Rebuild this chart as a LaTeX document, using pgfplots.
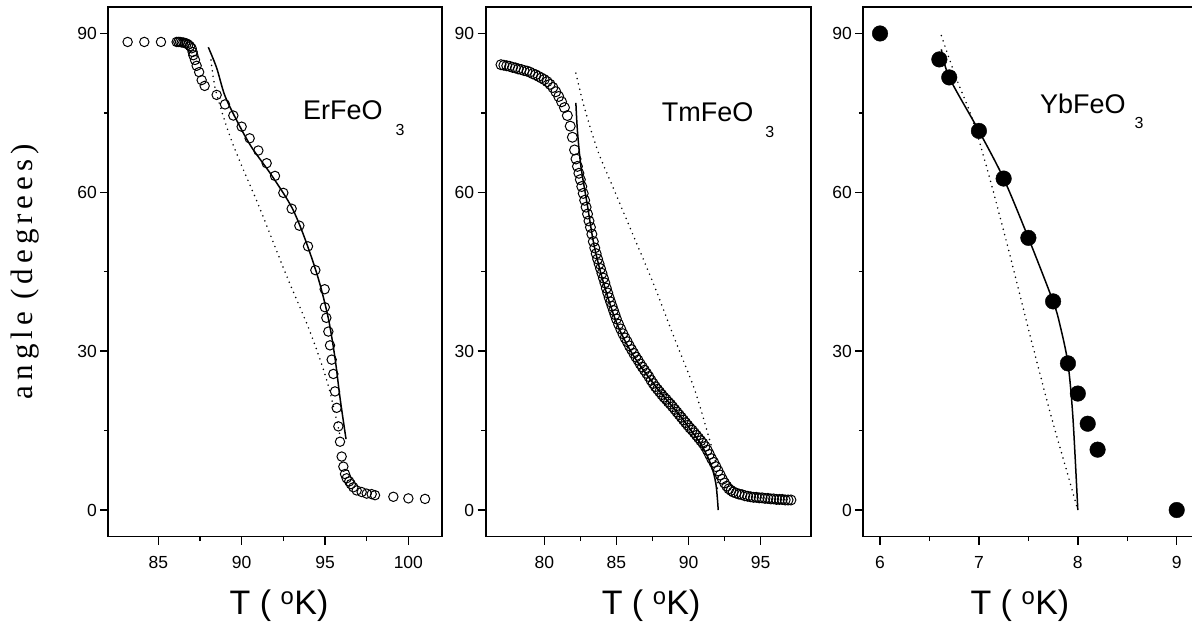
\documentclass[border=0pt]{standalone}
\usepackage{fontspec}
\setmainfont{Liberation Sans}
\newfontfamily\ylabfont{Liberation Serif}[LetterSpace=16]
\usepackage{pgfplots}
\pgfplotsset{compat=1.18}

\pgfplotsset{
  panel/.style={
    scale only axis, height=529.5pt,
    ymin=-5, ymax=95, ytick={0,30,60,90}, minor y tick num=1,
    minor x tick num=1,
    tick align=outside, xtick pos=bottom, ytick pos=left,
    major tick length=8pt, minor tick length=4.5pt,
    tick style={black, line width=1.4pt},
    axis line style={line width=1.8pt},
    /pgf/number format/assume math mode=true,
    tick label style={font=\fontsize{17.5}{20}\selectfont},
    xticklabel style={yshift=-8pt},
    xlabel style={font=\fontsize{34}{40}\selectfont, anchor=base, yshift=-77.5pt},
    xlabel={T ( \textsuperscript{o}K)},
  },
  circ/.style={only marks, mark=o, mark size=4.7pt, mark options={line width=1pt, black}},
  fitline/.style={black, line width=1.5pt, smooth, tension=0.5, mark=none},
  dotline/.style={black, line width=1.7pt, line cap=round, dash pattern=on 0pt off 5.5pt, smooth, tension=0.5, mark=none},
}

\newcommand{\comp}[3]{{\fontsize{27}{30}\selectfont #1}\hspace{#2}\raisebox{#3}{\fontsize{16}{18}\selectfont 3}}

\begin{document}
\begin{tikzpicture}
\useasboundingbox (0pt,0pt) rectangle (1192pt,622pt);

% ---------------- Panel 1: ErFeO3 ----------------
\begin{axis}[panel, at={(108.3pt,85.5pt)}, anchor=south west, width=333.4pt,
  xmin=82, xmax=102, xtick={85,90,95,100},
  xlabel style={at={(axis description cs:0.512,0)}},
  ylabel={angle (degrees)},
  ylabel style={font=\ylabfont\fontsize{31}{34}\selectfont, at={(axis description cs:-0.25,0.5)}, anchor=center},
]
\addplot[circ] coordinates {
(83.16,88.4) (84.16,88.4) (85.16,88.4)
(86.1,88.4) (86.2,88.4) (86.3,88.4) (86.4,88.3) (86.5,88.3) (86.6,88.2)
(86.7,88.1) (86.8,87.9) (86.9,87.6) (87.0,87.2) (87.06,86.5) (87.1,85.9)
(87.2,85.0) (87.3,83.9) (87.45,82.7) (87.6,81.2) (87.78,80.1)
(88.5,78.4) (89.0,76.6) (89.5,74.5) (90.0,72.4) (90.48,70.2) (91.0,67.9)
(91.5,65.5) (92.0,63.1) (92.5,59.9) (93.0,56.9) (93.46,53.7) (93.98,49.8)
(94.42,45.3) (94.98,41.7) (94.99,38.3) (95.08,36.3) (95.2,33.7) (95.3,31.1)
(95.4,28.4) (95.5,25.7) (95.6,22.4) (95.7,19.3) (95.8,15.8) (95.9,12.9)
(96.0,10.1) (96.1,8.2) (96.2,6.8) (96.3,6.0) (96.45,5.4) (96.55,4.9)
(96.7,4.3) (96.9,3.7) (97.2,3.4) (97.5,3.1) (97.8,3.0) (98.0,2.8)
(99.1,2.5) (100.0,2.2) (101.0,2.1)
};
\addplot[fitline] coordinates {
(88.0,87.4) (88.5,83.5) (89.0,78.2) (89.8,73.0) (90.6,68.5) (91.8,63.2)
(93.0,57.2) (93.8,51.2) (94.6,43.7) (95.2,36.2) (95.6,28.7) (95.9,21.2) (96.26,13.4)
};
\addplot[dotline] coordinates {
(88.16,85.0) (88.46,79.0) (89.46,69.2) (91.06,57.2) (92.66,44.5)
(94.06,34.0) (95.06,25.0) (95.66,17.5) (95.9,14.0)
};
\node[anchor=base west, inner sep=0pt] at (rel axis cs:0.584,0.7866) {\comp{ErFeO}{13pt}{-16pt}};
\end{axis}

% ---------------- Panel 2: TmFeO3 ----------------
\begin{axis}[panel, at={(485.7pt,85.5pt)}, anchor=south west, width=325pt,
  xmin=75.94, xmax=98.47, xtick={80,85,90,95},
  xlabel style={at={(axis description cs:0.509,0)}},
]
\addplot[circ, mark size=5pt] coordinates {
(77.0,84.1) (77.2,84.0) (77.4,83.9) (77.6,83.8) (77.8,83.6) (78.0,83.5)
(78.2,83.3) (78.4,83.2) (78.6,83.0) (78.8,82.9) (79.0,82.7) (79.2,82.4)
(79.4,82.2) (79.6,81.9) (79.8,81.6) (80.0,81.3) (80.2,80.9) (80.4,80.4)
(80.6,79.8) (80.8,79.0) (81.0,78.1) (81.2,77.1) (81.4,76.0) (81.6,74.5)
(81.8,72.5) (81.95,70.4) (82.1,68.0) (82.2,66.3) (82.3,64.9) (82.4,63.6)
(82.5,62.4) (82.6,61.1) (82.7,59.8) (82.8,58.5) (82.9,57.2) (83.0,55.9)
(83.1,54.6) (83.2,53.4) (83.3,52.1) (83.4,50.7) (83.5,49.5) (83.6,48.4)
(83.7,47.4) (83.8,46.5) (83.9,45.6) (84.0,44.7) (84.1,43.8) (84.2,42.9)
(84.3,41.9) (84.4,41.0) (84.5,40.1) (84.6,39.3) (84.7,38.5) (84.8,37.7)
(84.9,36.9) (85.0,36.1) (85.15,35.1) (85.3,34.2) (85.45,33.3) (85.6,32.5)
(85.75,31.8) (85.9,31.0) (86.05,30.3) (86.2,29.6) (86.35,28.9) (86.5,28.3)
(86.65,27.6) (86.8,27.0) (86.95,26.4) (87.1,25.8) (87.25,25.2) (87.4,24.5)
(87.55,23.9) (87.7,23.3) (87.85,22.8) (88.0,22.3) (88.15,21.8) (88.3,21.3)
(88.45,20.9) (88.6,20.4) (88.75,20.0) (88.9,19.5) (89.05,19.0) (89.2,18.5)
(89.35,18.0) (89.5,17.5) (89.65,17.0) (89.8,16.5) (89.95,16.0) (90.1,15.5)
(90.25,15.1) (90.4,14.6) (90.55,14.1) (90.7,13.6) (90.85,13.1) (91.0,12.6)
(91.15,12.0) (91.3,11.3) (91.45,10.5) (91.6,9.7) (91.75,9.0) (91.9,8.2)
(92.05,7.4) (92.2,6.6) (92.35,5.8) (92.5,5.1) (92.65,4.5) (92.8,4.0)
(92.95,3.7) (93.1,3.4) (93.3,3.2) (93.5,3.0) (93.7,2.9) (93.9,2.7)
(94.1,2.6) (94.3,2.5) (94.5,2.4) (94.7,2.4) (94.9,2.3) (95.1,2.3)
(95.3,2.2) (95.5,2.2) (95.7,2.1) (95.9,2.1) (96.1,2.0) (96.3,2.0)
(96.5,2.0) (96.7,1.9) (96.9,1.9) (97.1,1.9)
};
\addplot[fitline] coordinates {
(82.19,76.9) (82.3,71.6) (82.54,64.9) (83.0,57.4) (83.46,49.9) (84.16,42.4)
(85.08,34.9) (86.24,28.9) (87.85,22.9) (89.47,17.6) (90.86,12.4) (91.55,8.6)
(91.9,4.9) (92.06,0)
};
\addplot[dotline] coordinates {
(82.19,82.5) (82.77,76.1) (83.7,67.9) (84.85,60.4) (86.24,51.4) (87.62,42.4)
(89.0,32.6) (90.4,22.9) (91.32,14.6) (91.9,8.6) (92.0,4.0)
};
\node[anchor=base west, inner sep=0pt] at (rel axis cs:0.5415,0.7847) {\comp{TmFeO}{12pt}{-16pt}};
\end{axis}

% ---------------- Panel 3: YbFeO3 ----------------
\begin{axis}[panel, at={(863.3pt,85.5pt)}, anchor=south west, width=333.2pt,
  xmin=5.831, xmax=9.2, xtick={6,7,8,9},
  xlabel style={at={(axis description cs:0.47,0)}},
]
\addplot[only marks, mark=*, mark size=7.8pt, mark options={black, fill=black}] coordinates {
(6.0,90) (6.6,85.1) (6.7,81.7) (7.0,71.6) (7.25,62.6) (7.5,51.4)
(7.75,39.4) (7.9,27.7) (8.0,22.0) (8.1,16.3) (8.2,11.4) (9.0,0)
};
\addplot[fitline] coordinates {
(6.62,87.0) (6.7,81.7) (7.0,71.6) (7.25,62.6) (7.5,51.4) (7.75,39.4)
(7.82,34.9) (7.9,27.7) (7.95,17.6) (8.0,0)
};
\addplot[dotline] coordinates {
(6.62,89.6) (6.76,82.1) (6.94,73.5) (7.11,62.6) (7.31,48.4) (7.51,33.5)
(7.72,18.4) (7.88,7.9) (8.0,0)
};
\node[anchor=base west, inner sep=0pt] at (rel axis cs:0.53,0.7998) {\comp{YbFeO}{9pt}{-15pt}};
\end{axis}
\end{tikzpicture}
\end{document}
